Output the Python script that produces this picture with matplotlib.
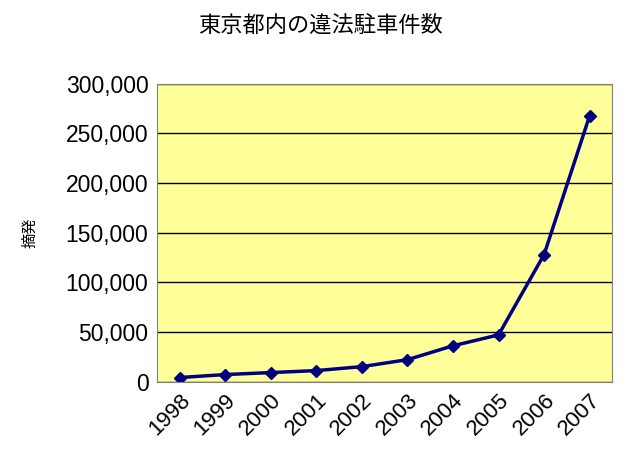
import matplotlib.pyplot as plt

plt.rcParams['font.family'] = ['Noto Sans CJK JP', 'DejaVu Sans']

years = ['1998', '1999', '2000', '2001', '2002', '2003', '2004', '2005', '2006', '2007']
counts = [4000, 7000, 9000, 11000, 15000, 22000, 36000, 47000, 128000, 268000]

fig = plt.figure(figsize=(6.4, 4.71), dpi=100)
ax = fig.add_axes([0.245, 0.19, 0.712, 0.632])
ax.set_facecolor('#FFFF99')

x = list(range(len(years)))
ax.plot(x, counts, color='#000080', linewidth=2.5, marker='D', markersize=6)

ax.set_xlim(-0.5, len(years) - 0.5)
ax.set_ylim(0, 300000)
ax.set_yticks(range(0, 300001, 50000))
ax.set_yticklabels([f'{v:,}' for v in range(0, 300001, 50000)], fontsize=16.5, family='Liberation Sans')
ax.set_xticks(x)
ax.set_xticklabels(years, rotation=45, ha='right', rotation_mode='anchor', fontsize=16, family='Liberation Sans')
ax.grid(axis='y', color='black', linewidth=1)
ax.set_axisbelow(True)
for s in ax.spines.values():
    s.set_color('#808080')
ax.tick_params(length=0, pad=6)

ax.set_ylabel('摘発', fontsize=11, labelpad=20)
fig.suptitle('東京都内の違法駐車件数', fontsize=16, y=0.97)

fig.savefig('out.png', dpi=100)
